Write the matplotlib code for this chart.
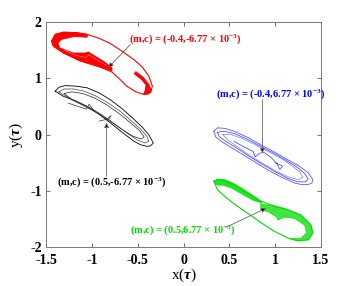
import numpy as np
import matplotlib.pyplot as plt

plt.rcParams['font.family'] = 'Liberation Serif'
plt.rcParams['font.weight'] = 'bold'
plt.rcParams['mathtext.fontset'] = 'custom'
plt.rcParams['mathtext.rm'] = 'Liberation Serif:bold'
plt.rcParams['mathtext.it'] = 'Liberation Serif:italic:bold'
plt.rcParams['mathtext.bf'] = 'Liberation Serif:bold'

# red: (m,c) = (-0.4,-6.77e-3)
red_outer_x = [-1.44, -1.40, -1.31, -1.16, -1.05, -0.92, -0.80, -0.67, -0.54, -0.45, -0.38, -0.34, -0.36, -0.43, -0.52, -0.62, -0.70, -0.78, -0.91, -1.13, -1.31, -1.42, -1.44]
red_outer_y = [1.66, 1.78, 1.82, 1.81, 1.78, 1.71, 1.62, 1.48, 1.33, 1.20, 1.04, 0.86, 0.75, 0.71, 0.76, 0.86, 0.99, 1.11, 1.20, 1.31, 1.45, 1.57, 1.66]
red_fill_x = [-1.05, -1.16, -1.31, -1.40, -1.44, -1.42, -1.31, -1.13, -0.91, -0.78, -0.78, -0.87, -0.98, -1.04, -1.07, -1.20, -1.35, -1.37, -1.33, -1.20, -1.05]
red_fill_y = [1.78, 1.81, 1.82, 1.78, 1.66, 1.57, 1.45, 1.31, 1.20, 1.13, 1.19, 1.30, 1.41, 1.47, 1.45, 1.45, 1.54, 1.63, 1.69, 1.74, 1.73]
red_wing_x = [-1.30, -1.18, -1.07, -1.03, -0.95, -0.85]
red_wing_y = [1.50, 1.41, 1.37, 1.42, 1.33, 1.24]
red_tip_x = [-0.52, -0.44, -0.38, -0.35, -0.38, -0.44, -0.42, -0.41, -0.46, -0.54]
red_tip_y = [1.12, 1.02, 0.90, 0.78, 0.72, 0.71, 0.78, 0.88, 0.98, 1.08]

# black: (m,c) = (0.5,-6.77e-3)
black_outer_x = [-1.40, -1.36, -1.29, -1.17, -1.05, -0.92, -0.80, -0.67, -0.54, -0.45, -0.38, -0.33, -0.36, -0.40, -0.47, -0.54, -0.67, -0.80, -0.92, -1.05, -1.18, -1.31, -1.40]
black_outer_y = [0.77, 0.84, 0.87, 0.86, 0.83, 0.74, 0.62, 0.46, 0.27, 0.13, 0.00, -0.15, -0.20, -0.21, -0.18, -0.12, 0.04, 0.21, 0.36, 0.50, 0.60, 0.68, 0.77]
black_mid_x = [-1.36, -1.30, -1.20, -1.08, -0.95, -0.82, -0.68, -0.56, -0.47, -0.40, -0.38, -0.42, -0.50, -0.62, -0.75, -0.88, -1.00, -1.14, -1.27, -1.36]
black_mid_y = [0.76, 0.81, 0.81, 0.77, 0.68, 0.56, 0.40, 0.23, 0.10, -0.03, -0.12, -0.15, -0.10, 0.03, 0.19, 0.34, 0.46, 0.57, 0.67, 0.76]
black_inner_x = [-1.30, -1.22, -1.10, -0.97, -0.84, -0.70, -0.58, -0.48, -0.43, -0.46, -0.55, -0.68, -0.82, -0.96, -1.10, -1.23, -1.30]
black_inner_y = [0.73, 0.76, 0.73, 0.65, 0.53, 0.37, 0.21, 0.07, -0.04, -0.08, -0.03, 0.10, 0.26, 0.40, 0.52, 0.63, 0.73]
black_wing_x = [-1.26, -1.15, -1.06, -1.03, -0.98, -0.92, -0.86, -0.82, -0.79, -0.84, -0.92]
black_wing_y = [0.56, 0.50, 0.45, 0.54, 0.43, 0.36, 0.29, 0.26, 0.34, 0.27, 0.24]

# blue: (m,c) = (-0.4,6.77e-3)
blue_outer_x = [0.33, 0.37, 0.45, 0.55, 0.70, 0.84, 0.99, 1.14, 1.26, 1.36, 1.41, 1.40, 1.36, 1.29, 1.21, 1.06, 0.92, 0.77, 0.62, 0.50, 0.41, 0.35, 0.33]
blue_outer_y = [0.06, 0.12, 0.11, 0.06, -0.05, -0.18, -0.31, -0.45, -0.56, -0.68, -0.80, -0.86, -0.89, -0.89, -0.86, -0.75, -0.63, -0.48, -0.33, -0.21, -0.12, -0.04, 0.06]
blue_mid_x = [0.37, 0.44, 0.55, 0.68, 0.82, 0.97, 1.11, 1.23, 1.32, 1.36, 1.33, 1.25, 1.14, 1.00, 0.86, 0.72, 0.58, 0.46, 0.39, 0.37]
blue_mid_y = [0.04, 0.06, 0.02, -0.07, -0.19, -0.32, -0.45, -0.57, -0.69, -0.79, -0.84, -0.84, -0.78, -0.66, -0.53, -0.39, -0.24, -0.12, -0.04, 0.04]
blue_inner_x = [0.43, 0.52, 0.64, 0.78, 0.92, 1.06, 1.18, 1.27, 1.30, 1.25, 1.14, 1.00, 0.86, 0.72, 0.59, 0.48, 0.43]
blue_inner_y = [0.00, 0.00, -0.07, -0.18, -0.30, -0.42, -0.55, -0.67, -0.76, -0.80, -0.75, -0.64, -0.51, -0.37, -0.22, -0.09, 0.00]
blue_wing_x = [0.55, 0.66, 0.76, 0.78, 0.83, 0.88, 0.95, 1.02, 1.05, 1.08, 1.00]
blue_wing_y = [-0.12, -0.22, -0.30, -0.40, -0.33, -0.32, -0.40, -0.52, -0.62, -0.56, -0.50]

# green: (m,c) = (0.5,6.77e-3)
green_outer_x = [0.33, 0.37, 0.45, 0.55, 0.68, 0.81, 0.97, 1.14, 1.28, 1.39, 1.41, 1.36, 1.25, 1.14, 0.99, 0.84, 0.70, 0.55, 0.45, 0.37, 0.33]
green_outer_y = [-0.83, -0.80, -0.82, -0.89, -1.02, -1.16, -1.26, -1.34, -1.43, -1.61, -1.75, -1.87, -1.89, -1.84, -1.72, -1.56, -1.40, -1.23, -1.10, -0.98, -0.83]
green_fill1_x = [0.33, 0.37, 0.45, 0.55, 0.68, 0.81, 0.86, 0.76, 0.63, 0.52, 0.43, 0.38, 0.35]
green_fill1_y = [-0.83, -0.79, -0.80, -0.87, -1.00, -1.14, -1.22, -1.17, -1.05, -0.95, -0.90, -0.90, -0.88]
green_fill2_x = [0.84, 0.97, 1.10, 1.28, 1.39, 1.41, 1.36, 1.25, 1.16, 1.28, 1.34, 1.32, 1.21, 1.10, 1.03, 1.01, 0.92, 0.84]
green_fill2_y = [-1.23, -1.26, -1.31, -1.43, -1.61, -1.75, -1.87, -1.89, -1.85, -1.84, -1.75, -1.61, -1.49, -1.47, -1.52, -1.46, -1.37, -1.34]

labels = [r'(m,c) = (-0.4,-6.77 $\times$ 10$^{-3}$)',
          r'(m,c) = (-0.4,6.77 $\times$ 10$^{-3}$)',
          r'(m,c) = (0.5,-6.77 $\times$ 10$^{-3}$)',
          r'(m,c) = (0.5,6.77 $\times$ 10$^{-3}$)']
label_xy = [(-0.59, 1.70), (0.35, 0.72), (-1.38, -0.85), (-0.58, -1.70)]
arrow_tip = [(-0.82, 1.19), (0.86, -0.33), (-0.84, 0.21), (0.90, -1.31)]
arrow_tail = [(-0.58, 1.60), (0.86, 0.62), (-0.84, -0.74), (0.46, -1.65)]
label_colors = ['red', 'blue', 'black', '#00dd00']

fig = plt.figure(figsize=(3.54, 2.86), dpi=100)
ax = fig.add_axes([0.130, 0.136, 0.777, 0.787])

ax.fill(red_fill_x, red_fill_y, color='red', lw=0.5)
ax.fill(red_tip_x, red_tip_y, color='red', lw=0.5)
ax.plot(red_outer_x, red_outer_y, color='red', lw=0.8)
ax.plot(red_wing_x, red_wing_y, color='white', lw=0.4, alpha=0.6)

ax.plot(black_outer_x, black_outer_y, color='black', lw=0.6)
ax.plot(black_mid_x, black_mid_y, color='#444444', lw=0.5)
ax.plot(black_inner_x, black_inner_y, color='#222222', lw=0.5)
ax.plot(black_wing_x, black_wing_y, color='#333333', lw=0.5)

ax.plot(blue_outer_x, blue_outer_y, color='#5555ff', lw=0.6)
ax.plot(blue_mid_x, blue_mid_y, color='#3333ff', lw=0.5)
ax.plot(blue_inner_x, blue_inner_y, color='#7777ff', lw=0.5)
ax.plot(blue_wing_x, blue_wing_y, color='#3333ff', lw=0.5)

ax.fill(green_fill1_x, green_fill1_y, color='#00dd00', alpha=0.85, lw=0.5)
ax.fill(green_fill2_x, green_fill2_y, color='#00dd00', alpha=0.75, lw=0.5)
ax.plot(green_outer_x, green_outer_y, color='#00dd00', lw=0.8)

for lab, xy, tip, tail, col in zip(labels, label_xy, arrow_tip, arrow_tail, label_colors):
    ax.text(xy[0], xy[1], lab, color=col, fontsize=7.5, fontweight='bold', va='center', ha='left')
    ax.annotate('', xy=tip, xytext=tail,
                arrowprops=dict(arrowstyle='-|>', ec='#666666', fc='black', lw=0.6,
                                mutation_scale=7, shrinkA=0, shrinkB=0))

ax.set_xlim(-1.5, 1.5)
ax.set_ylim(-2, 2)
ax.set_xticks([-1.5, -1, -0.5, 0, 0.5, 1, 1.5])
ax.set_xticklabels(['-1.5', '-1', '-0.5', '0', '0.5', '1', '1.5'])
ax.set_yticks([-2, -1, 0, 1, 2])
ax.set_yticklabels(['-2', '-1', '0', '1', '2'])
ax.tick_params(direction='in', top=True, right=True, length=3, width=0.6,
               color='#555555', labelsize=10)
ax.tick_params(axis='x', pad=5)
ax.tick_params(axis='y', pad=3)
for s in ax.spines.values():
    s.set_color('#777777')
    s.set_linewidth(0.7)
ax.set_xlabel(r'x($\tau$)', fontsize=11, labelpad=0)
ax.set_ylabel(r'y($\tau$)', fontsize=11, labelpad=4)

fig.savefig('out.png', dpi=100)
